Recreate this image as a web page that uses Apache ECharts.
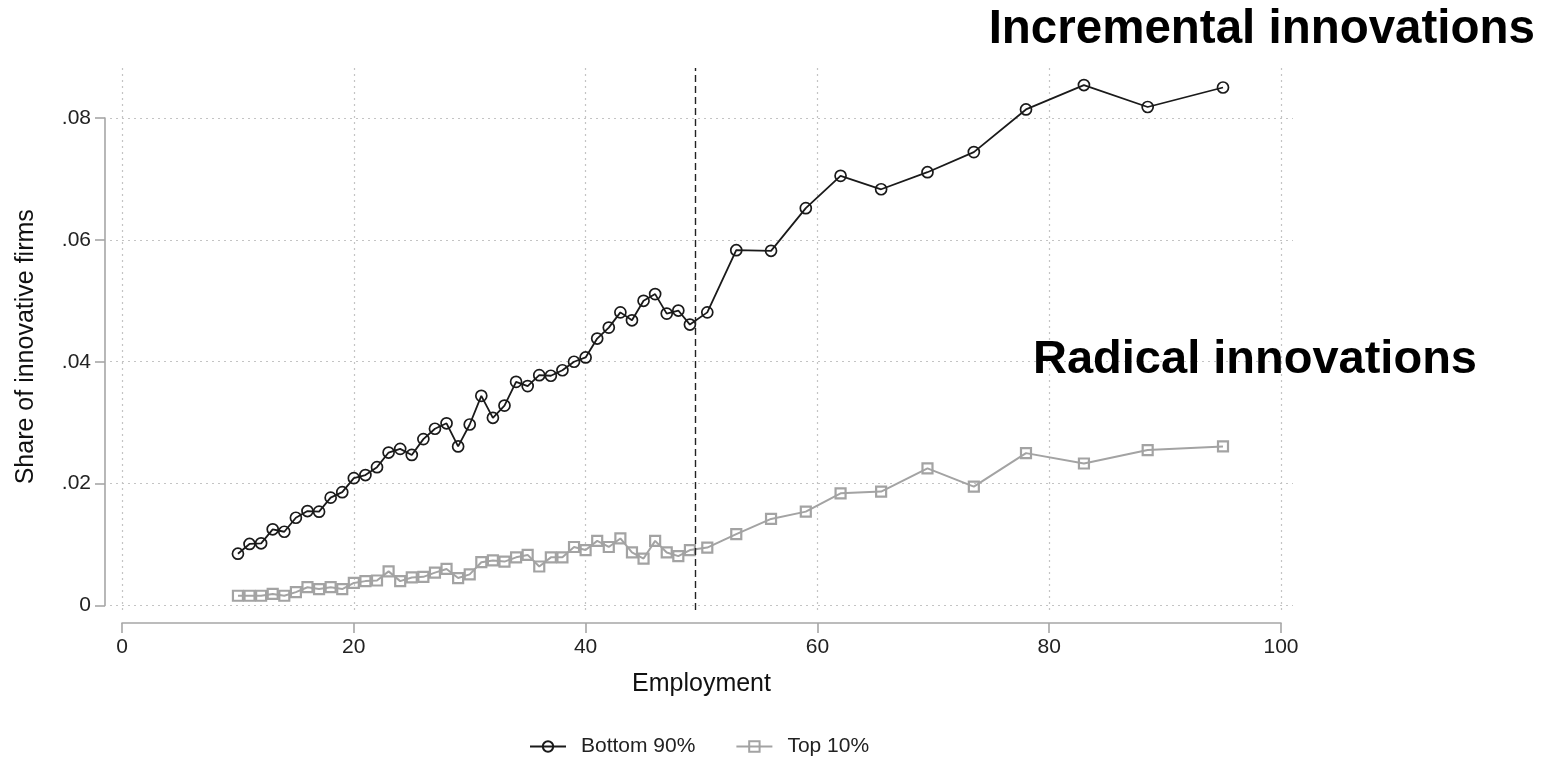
<!DOCTYPE html>
<html>
<head>
<meta charset="utf-8">
<script src="https://cdn.jsdelivr.net/npm/echarts@6/dist/echarts.min.js"></script>
<style>html,body{margin:0;padding:0;background:#fff;}#chart{width:1546px;height:763px;}</style>
</head>
<body>
<div id="chart"></div>
<script>
// Employment bins (x) and shares for each group
const employment = [10,11,12,13,14,15,16,17,18,19,20,21,22,23,24,25,26,27,28,29,30,31,32,33,34,35,36,37,38,39,40,41,42,43,44,45,46,47,48,49,50.5,53,56,59,62,65.5,69.5,73.5,78,83,88.5,95];
const bottom90 = [0.0085,0.0101,0.0102,0.0125,0.0121,0.0144,0.0155,0.0154,0.0177,0.0186,0.0209,0.0214,0.0227,0.0251,0.0257,0.0247,0.0273,0.0290,0.0299,0.0261,0.0297,0.0344,0.0308,0.0328,0.0367,0.0360,0.0378,0.0377,0.0386,0.0400,0.0407,0.0438,0.0456,0.0481,0.0468,0.0500,0.0511,0.0479,0.0484,0.0461,0.0481,0.0583,0.0582,0.0652,0.0705,0.0683,0.0711,0.0744,0.0814,0.0854,0.0818,0.0850];
const top10 = [0.0016,0.0016,0.0016,0.0019,0.0016,0.0022,0.0030,0.0027,0.0030,0.0027,0.0037,0.0040,0.0041,0.0056,0.0040,0.0046,0.0047,0.0054,0.0060,0.0045,0.0051,0.0071,0.0074,0.0072,0.0079,0.0083,0.0064,0.0079,0.0079,0.0096,0.0091,0.0106,0.0096,0.0110,0.0087,0.0077,0.0106,0.0087,0.0081,0.0091,0.0095,0.0117,0.0142,0.0154,0.0184,0.0187,0.0225,0.0195,0.0250,0.0233,0.0255,0.0261];
const xTicks = [0,20,40,60,80,100];
const yTicks = [0,0.02,0.04,0.06,0.08];
const cutoff = 49.5;
const seriesNames = ['Bottom 90%','Top 10%'];
const xTitle = 'Employment';
const yTitle = 'Share of innovative firms';
const labelTop = 'Incremental innovations';
const labelBottom = 'Radical innovations';

const pairs = (xs, ys) => xs.map((x, i) => [x, ys[i]]);
const yFmt = v => v === 0 ? '0' : v.toFixed(2).replace(/^0/, '');

const chart = echarts.init(document.getElementById('chart'));
const font = 'Liberation Sans, Arial, sans-serif';
const axisGray = '#a6a6a6';
const gridStyle = {show: true, lineStyle: {color: '#c4c4c4', type: [2, 4], width: 1.2}};

chart.setOption({
  backgroundColor: '#fff',
  animation: false,
  textStyle: {fontFamily: font},
  title: [
    {text: labelTop, right: 6, top: 1, textStyle: {fontFamily: font, fontSize: 47.5, fontWeight: 'bold', color: '#000'}},
    {text: labelBottom, left: 1028, top: 332, textStyle: {fontFamily: font, fontSize: 47, fontWeight: 'bold', color: '#000'}}
  ],
  legend: {
    bottom: 1, left: 524, itemWidth: 36, itemHeight: 13, itemGap: 40,
    textStyle: {fontFamily: font, fontSize: 21, color: '#222', padding: [0, 0, 0, 10]},
    data: seriesNames
  },
  grid: [
    {left: 110, right: 253, top: 68, bottom: 153},
    {left: 122, right: 265, top: 118, bottom: 157.5}
  ],
  xAxis: [
    {gridIndex: 0, type: 'value', min: -1.04, max: 101.04,
     axisLine: {show: false}, axisLabel: {show: false, customValues: xTicks},
     axisTick: {show: false, customValues: xTicks}, splitLine: gridStyle},
    {gridIndex: 1, type: 'value', min: 0, max: 100, interval: 20, position: 'bottom', offset: 17.5,
     axisLine: {show: true, onZero: false, lineStyle: {color: axisGray, width: 1.6}},
     axisTick: {show: true, length: 10, lineStyle: {color: axisGray, width: 1.6}},
     axisLabel: {fontSize: 21, color: '#222', margin: 14, fontFamily: font},
     splitLine: {show: false},
     name: xTitle, nameLocation: 'middle', nameGap: 49,
     nameTextStyle: {fontSize: 25, color: '#111', fontFamily: font}}
  ],
  yAxis: [
    {gridIndex: 0, type: 'value', min: -0.00074, max: 0.0882,
     axisLine: {show: false}, axisLabel: {show: false, customValues: yTicks},
     axisTick: {show: false, customValues: yTicks}, splitLine: gridStyle},
    {gridIndex: 1, type: 'value', min: 0, max: 0.08, interval: 0.02, position: 'left', offset: 17,
     axisLine: {show: true, onZero: false, lineStyle: {color: axisGray, width: 1.6}},
     axisTick: {show: true, length: 10, lineStyle: {color: axisGray, width: 1.6}},
     axisLabel: {fontSize: 21, color: '#222', margin: 14, formatter: yFmt, fontFamily: font},
     splitLine: {show: false},
     name: yTitle, nameLocation: 'middle', nameGap: 66,
     nameTextStyle: {fontSize: 25, color: '#111', fontFamily: font, padding: [0, 0, 0, 30]}}
  ],
  series: [
    {name: seriesNames[0], type: 'line', xAxisIndex: 0, yAxisIndex: 0,
     data: pairs(employment, bottom90),
     symbol: 'circle', symbolSize: 11,
     itemStyle: {color: 'rgba(255,255,255,0)', borderColor: '#1a1a1a', borderWidth: 1.7},
     lineStyle: {color: '#1a1a1a', width: 1.8},
     z: 3,
     markLine: {silent: true, symbol: 'none', label: {show: false},
       lineStyle: {color: '#222', type: [7, 4], width: 1.4},
       data: [{xAxis: cutoff}]}
    },
    {name: seriesNames[1], type: 'line', xAxisIndex: 0, yAxisIndex: 0,
     data: pairs(employment, top10),
     symbol: 'rect', symbolSize: 10,
     itemStyle: {color: 'rgba(255,255,255,0)', borderColor: '#a3a3a3', borderWidth: 2.2},
     lineStyle: {color: '#a3a3a3', width: 2},
     z: 2}
  ]
});
</script>
</body>
</html>
